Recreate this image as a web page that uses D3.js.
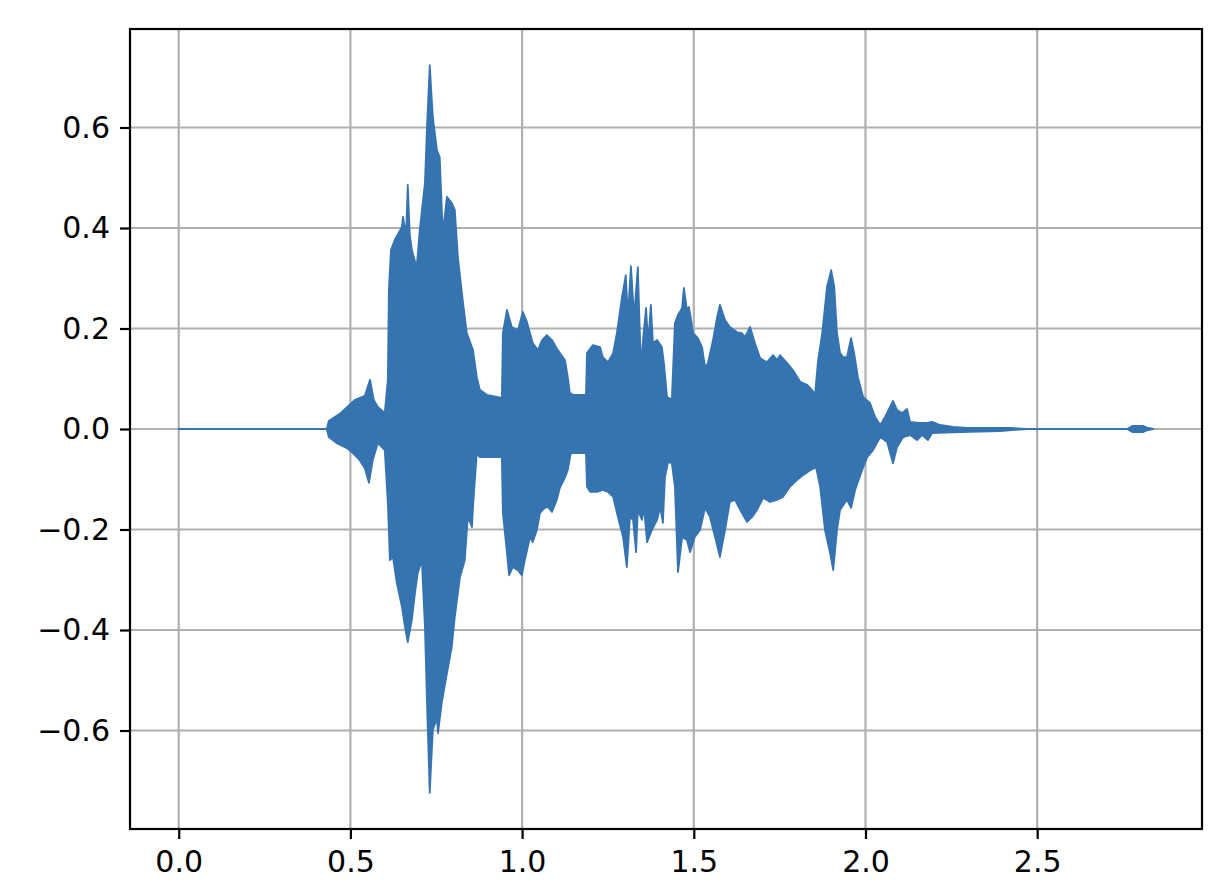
<!DOCTYPE html>
<html>
<head>
<meta charset="utf-8">
<script src="https://cdn.jsdelivr.net/npm/d3@7"></script>
<style>
  body { margin: 0; background: #fff; }
  svg { display: block; }
</style>
</head>
<body>
<script>
// waveform envelope (seconds, amplitude)
const upperTime = [0, 0.431, 0.437, 0.472, 0.513, 0.542, 0.557, 0.568, 0.580, 0.600, 0.609, 0.612, 0.618, 0.629, 0.650, 0.653, 0.662, 0.667, 0.673, 0.679, 0.693, 0.702, 0.717, 0.723, 0.731, 0.740, 0.752, 0.760, 0.769, 0.781, 0.795, 0.804, 0.813, 0.828, 0.839, 0.857, 0.868, 0.877, 0.897, 0.941, 0.944, 0.956, 0.970, 0.988, 1.002, 1.014, 1.031, 1.046, 1.058, 1.072, 1.087, 1.104, 1.125, 1.133, 1.139, 1.148, 1.186, 1.189, 1.206, 1.227, 1.235, 1.250, 1.265, 1.276, 1.291, 1.302, 1.308, 1.317, 1.326, 1.337, 1.346, 1.352, 1.361, 1.367, 1.375, 1.381, 1.393, 1.407, 1.413, 1.422, 1.436, 1.445, 1.454, 1.466, 1.471, 1.480, 1.486, 1.498, 1.512, 1.524, 1.533, 1.541, 1.556, 1.568, 1.576, 1.591, 1.605, 1.626, 1.640, 1.649, 1.664, 1.678, 1.693, 1.713, 1.731, 1.742, 1.751, 1.772, 1.789, 1.810, 1.830, 1.844, 1.853, 1.862, 1.874, 1.888, 1.900, 1.909, 1.917, 1.926, 1.935, 1.946, 1.958, 1.967, 1.978, 1.993, 2.013, 2.028, 2.043, 2.057, 2.080, 2.092, 2.107, 2.121, 2.130, 2.153, 2.179, 2.194, 2.217, 2.255, 2.296, 2.421, 2.471, 2.762, 2.777, 2.809, 2.823, 2.838];
const upperAmp = [0, 0, 0.016, 0.032, 0.058, 0.066, 0.098, 0.058, 0.044, 0.032, 0.098, 0.277, 0.356, 0.376, 0.402, 0.422, 0.386, 0.486, 0.386, 0.356, 0.322, 0.396, 0.490, 0.601, 0.724, 0.621, 0.555, 0.541, 0.390, 0.462, 0.450, 0.436, 0.342, 0.251, 0.191, 0.157, 0.103, 0.078, 0.068, 0.062, 0.191, 0.237, 0.203, 0.197, 0.233, 0.213, 0.171, 0.157, 0.177, 0.187, 0.177, 0.157, 0.137, 0.103, 0.072, 0.068, 0.068, 0.151, 0.167, 0.163, 0.143, 0.133, 0.151, 0.191, 0.263, 0.306, 0.223, 0.324, 0.223, 0.322, 0.123, 0.177, 0.241, 0.171, 0.247, 0.171, 0.177, 0.163, 0.131, 0.064, 0.058, 0.211, 0.227, 0.241, 0.281, 0.237, 0.243, 0.191, 0.181, 0.163, 0.123, 0.131, 0.177, 0.223, 0.247, 0.217, 0.203, 0.193, 0.191, 0.183, 0.203, 0.171, 0.141, 0.133, 0.147, 0.137, 0.147, 0.131, 0.117, 0.094, 0.088, 0.078, 0.068, 0.137, 0.191, 0.283, 0.316, 0.283, 0.191, 0.151, 0.143, 0.143, 0.181, 0.151, 0.103, 0.064, 0.052, 0.024, 0.008, 0.024, 0.056, 0.038, 0.032, 0.040, 0.014, 0.012, 0.012, 0.014, 0.008, 0.004, 0.002, 0.002, 0, 0, 0.006, 0.006, 0.002, 0];

const lowerTime = [0, 0.431, 0.437, 0.460, 0.490, 0.507, 0.527, 0.542, 0.554, 0.565, 0.580, 0.600, 0.609, 0.615, 0.624, 0.635, 0.650, 0.659, 0.667, 0.679, 0.688, 0.696, 0.708, 0.717, 0.723, 0.731, 0.740, 0.752, 0.755, 0.766, 0.781, 0.795, 0.804, 0.819, 0.833, 0.842, 0.854, 0.857, 0.868, 0.877, 0.941, 0.944, 0.956, 0.962, 0.973, 0.988, 0.999, 1.008, 1.023, 1.031, 1.043, 1.052, 1.066, 1.075, 1.087, 1.101, 1.110, 1.125, 1.133, 1.142, 1.186, 1.189, 1.198, 1.218, 1.235, 1.250, 1.265, 1.279, 1.294, 1.305, 1.314, 1.323, 1.332, 1.337, 1.349, 1.355, 1.364, 1.378, 1.393, 1.402, 1.410, 1.416, 1.425, 1.436, 1.445, 1.454, 1.466, 1.480, 1.489, 1.503, 1.518, 1.533, 1.547, 1.562, 1.576, 1.591, 1.605, 1.620, 1.635, 1.655, 1.670, 1.684, 1.702, 1.722, 1.742, 1.760, 1.780, 1.801, 1.818, 1.839, 1.856, 1.868, 1.882, 1.897, 1.906, 1.917, 1.926, 1.946, 1.958, 1.970, 1.990, 2.005, 2.022, 2.043, 2.063, 2.080, 2.092, 2.110, 2.130, 2.150, 2.165, 2.182, 2.194, 2.276, 2.392, 2.471, 2.762, 2.777, 2.809, 2.823, 2.838];
const lowerAmp = [0, 0, -0.016, -0.028, -0.038, -0.048, -0.062, -0.078, -0.107, -0.062, -0.028, -0.042, -0.147, -0.261, -0.255, -0.306, -0.354, -0.394, -0.424, -0.380, -0.326, -0.287, -0.261, -0.394, -0.545, -0.724, -0.599, -0.575, -0.605, -0.545, -0.486, -0.434, -0.374, -0.295, -0.261, -0.175, -0.195, -0.155, -0.048, -0.056, -0.056, -0.167, -0.247, -0.291, -0.275, -0.281, -0.291, -0.261, -0.215, -0.225, -0.201, -0.167, -0.157, -0.155, -0.165, -0.141, -0.117, -0.096, -0.082, -0.048, -0.048, -0.115, -0.125, -0.125, -0.121, -0.125, -0.135, -0.175, -0.215, -0.275, -0.175, -0.181, -0.245, -0.161, -0.181, -0.157, -0.225, -0.201, -0.181, -0.155, -0.187, -0.096, -0.066, -0.068, -0.115, -0.285, -0.215, -0.221, -0.245, -0.215, -0.201, -0.157, -0.175, -0.215, -0.255, -0.201, -0.145, -0.141, -0.161, -0.185, -0.175, -0.161, -0.137, -0.145, -0.141, -0.135, -0.115, -0.101, -0.092, -0.082, -0.076, -0.115, -0.201, -0.247, -0.281, -0.201, -0.161, -0.141, -0.157, -0.121, -0.082, -0.056, -0.042, -0.016, -0.026, -0.068, -0.036, -0.016, -0.012, -0.022, -0.012, -0.022, -0.008, -0.006, -0.004, 0, 0, -0.006, -0.006, -0.002, 0];

const xTicks = [0, 0.5, 1.0, 1.5, 2.0, 2.5];
const yTicks = [-0.6, -0.4, -0.2, 0, 0.2, 0.4, 0.6];

const width = 1212;
const height = 886;
const margin = { left: 130, right: 10, top: 29, bottom: 57 };
const plotLeft = margin.left;
const plotRight = width - margin.right;
const plotTop = margin.top;
const plotBottom = height - margin.bottom;

const svg = d3.select("body")
  .append("svg")
  .attr("width", width)
  .attr("height", height);

const xScale = d3.scaleLinear()
  .domain([-0.1419, 2.98])
  .range([plotLeft, plotRight]);

const yScale = d3.scaleLinear()
  .domain([-0.796, 0.796])
  .range([plotBottom, plotTop]);

// grid first, waveform goes over it
svg.append("g")
  .selectAll("line")
  .data(xTicks)
  .enter()
  .append("line")
  .attr("x1", d => xScale(d))
  .attr("x2", d => xScale(d))
  .attr("y1", plotTop)
  .attr("y2", plotBottom)
  .attr("stroke", "#b0b0b0")
  .attr("stroke-width", 2.2);

svg.append("g")
  .selectAll("line")
  .data(yTicks)
  .enter()
  .append("line")
  .attr("x1", plotLeft)
  .attr("x2", plotRight)
  .attr("y1", d => yScale(d))
  .attr("y2", d => yScale(d))
  .attr("stroke", "#b0b0b0")
  .attr("stroke-width", 2.2);

// outline: upper envelope forward, lower envelope back
const upper = upperTime.map((t, i) => [t, upperAmp[i]]);
const lower = lowerTime.map((t, i) => [t, lowerAmp[i]]).reverse();

const outline = d3.line()
  .x(d => xScale(d[0]))
  .y(d => yScale(d[1]));

svg.append("path")
  .attr("d", outline(upper.concat(lower)) + "Z")
  .attr("fill", "#3674b1")
  .attr("stroke", "#3674b1")
  .attr("stroke-width", 1.8)
  .attr("stroke-linejoin", "round");

const xAxis = d3.axisBottom(xScale)
  .tickValues(xTicks)
  .tickFormat(d3.format(".1f"))
  .tickSize(10)
  .tickPadding(12);

const yAxis = d3.axisLeft(yScale)
  .tickValues(yTicks)
  .tickFormat(d3.format(".1f"))
  .tickSize(10)
  .tickPadding(10);

function styleAxis(g) {
  g.attr("font-family", "'DejaVu Sans', sans-serif").attr("font-size", 30);
  g.select(".domain").remove();
  g.selectAll(".tick line").attr("stroke", "#000").attr("stroke-width", 2.2);
  g.selectAll(".tick text").attr("fill", "#000");
}

svg.append("g")
  .attr("transform", `translate(0, ${plotBottom})`)
  .call(xAxis)
  .call(styleAxis);

svg.append("g")
  .attr("transform", `translate(${plotLeft}, 0)`)
  .call(yAxis)
  .call(styleAxis);

svg.append("rect")
  .attr("x", plotLeft)
  .attr("y", plotTop)
  .attr("width", plotRight - plotLeft)
  .attr("height", plotBottom - plotTop)
  .attr("fill", "none")
  .attr("stroke", "#000")
  .attr("stroke-width", 2.2);
</script>
</body>
</html>
